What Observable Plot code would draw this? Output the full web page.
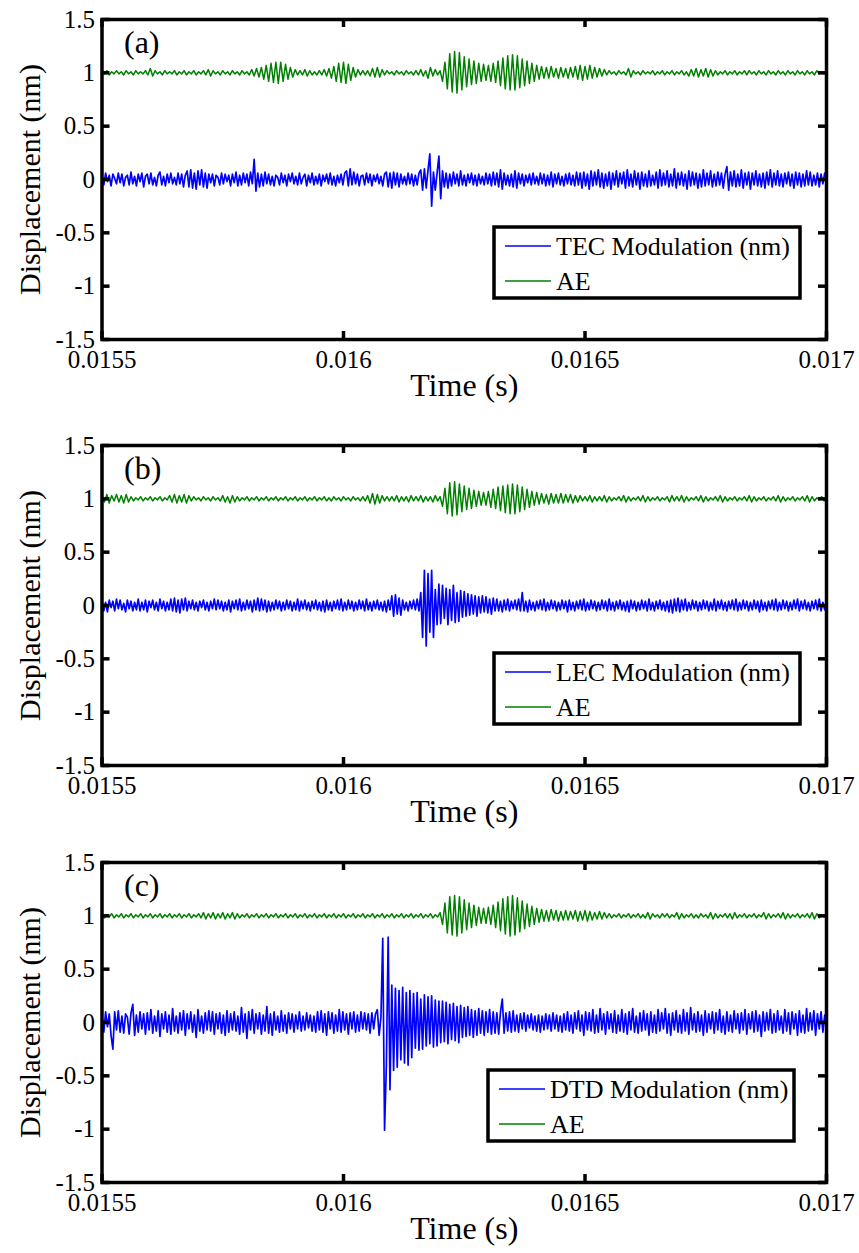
<!DOCTYPE html>
<html><head><meta charset="utf-8">
<script src="https://cdn.jsdelivr.net/npm/d3@7"></script>
<script src="https://cdn.jsdelivr.net/npm/@observablehq/plot@0.6"></script>
<style>
body{margin:0;background:#fff;}
#chart svg{display:block;}
</style></head><body><div id="chart"></div>
<script>
// Sampled signals from 0.0155 s to 0.017 s.
// Modulation (blue) traces: 401 samples, one every 3.75 microseconds.
// AE (green) traces: 301 samples, one every 5 microseconds.
const startTime = 0.0155;
const blueStep = 0.00000375;
const greenStep = 0.000005;
const xTicks = [0.0155, 0.016, 0.0165, 0.017];
const yTicks = [-1.5, -1, -0.5, 0, 0.5, 1, 1.5];
const seriesNames = ["TEC Modulation (nm)", "LEC Modulation (nm)", "DTD Modulation (nm)"];
const aeName = "AE";
const panelLetters = ["(a)", "(b)", "(c)"];

const blueA = [
.03,-.05,.06,-.02,.04,-.06,.05,.01,-.04,.06,
-.03,.05,-.06,.02,.04,-.05,.07,-.04,.03,-.06,
.05,-.02,.06,-.07,.03,.05,-.04,.06,-.05,.02,
-.06,.04,.07,-.05,.03,-.06,.05,-.03,.06,-.04,
.02,-.05,.06,-.04,.05,-.07,.04,.08,-.07,.09,
-.08,.06,-.09,.08,-.05,.09,-.07,.06,-.08,.05,
-.03,.05,-.06,.04,.02,-.05,.06,-.04,.05,-.02,
.04,-.06,.05,-.03,.07,-.06,.04,-.05,.06,-.03,
.05,-.06,.07,-.04,.19,-.11,.06,-.07,.05,-.06,
.07,-.04,.05,-.05,.03,-.06,.04,.02,-.05,.06,
-.03,.04,-.06,.05,-.02,.06,-.04,.03,-.05,.06,
-.04,.02,.05,-.06,.04,-.03,.06,-.05,.03,-.04,
.05,-.06,.04,-.02,.05,-.04,.06,-.05,.03,-.06,
.04,-.03,.05,-.05,.06,.08,-.06,.1,-.05,.07,
-.04,.05,-.06,.03,.04,-.05,.06,-.03,.05,-.06,
.04,-.02,.05,-.04,.03,-.06,.05,.07,-.07,.06,
-.08,.07,-.05,.06,-.07,.05,-.04,.03,-.05,.06,
-.04,.05,-.06,.04,-.05,.06,.09,-.1,.1,-.08,
.09,.24,-.25,.07,-.1,.06,.22,-.18,.08,-.07,
.06,-.08,.05,-.06,.07,-.04,.05,-.06,.08,-.05,
.04,-.06,.05,-.03,.06,-.05,.04,-.06,.05,-.04,
.03,-.05,.06,-.04,.05,-.06,.07,-.05,.06,-.07,
.09,-.09,.06,-.05,.04,-.06,.05,-.07,.08,-.08,
.06,-.04,.05,-.06,.04,-.03,.05,-.05,.06,-.04,
.03,-.05,.06,-.04,.05,-.06,.04,-.05,.07,-.07,
.05,-.04,.06,-.05,.03,-.06,.05,-.04,.06,-.05,
.04,-.06,.07,-.05,.06,-.08,.07,-.06,.05,-.09,
.08,-.06,.07,-.05,.09,-.07,.06,-.08,.05,-.06,
.07,-.09,.06,-.05,.08,-.07,.06,-.04,.07,-.08,
.09,-.06,.05,-.07,.08,-.05,.06,-.09,.07,-.06,
.05,-.07,.08,-.06,.04,-.05,.07,-.08,.09,-.06,
.06,-.05,.08,-.07,.05,-.06,.1,-.08,.06,-.05,
.07,-.06,.05,-.09,.08,-.06,.07,-.05,.06,-.08,
.05,-.07,.09,-.06,.06,-.05,.08,-.07,.05,-.06,
.07,-.05,.06,-.08,.05,.12,-.1,.07,-.06,.08,
-.07,.05,-.06,.09,-.08,.06,-.05,.07,-.09,.06,
-.05,.08,-.06,.05,-.07,.06,-.08,.07,-.05,.09,
-.07,.06,-.05,.08,-.06,.05,-.07,.06,-.04,.07,
-.06,.05,-.08,.07,-.05,.06,-.07,.05,-.06,.08,
-.05,.07,-.06,.04,-.05,.06,-.07,.05,-.04,.06,
.02];

const blueB = [
.04,-.05,.03,-.06,.05,-.02,.04,-.05,.06,-.03,
.05,-.04,.02,-.06,.05,-.03,.04,-.05,.03,-.04,
.06,-.05,.03,-.04,.05,-.06,.04,-.02,.05,-.04,
.03,-.05,.06,-.03,.04,-.05,.03,-.04,.06,-.05,
.07,-.06,.05,-.07,.06,-.04,.07,-.05,.04,-.03,
.05,-.04,.03,-.05,.04,-.02,.05,-.04,.03,-.05,
.04,-.03,.06,-.04,.05,-.03,.04,-.05,.03,-.04,
.05,-.06,.04,-.03,.05,-.04,.06,-.05,.03,-.04,
.05,-.03,.04,-.06,.05,-.04,.07,-.05,.06,-.04,
.05,-.06,.04,-.05,.03,-.04,.05,-.03,.04,-.05,
.03,-.04,.05,-.03,.04,-.05,.03,-.04,.06,-.05,
.04,-.03,.05,-.04,.03,-.05,.04,-.03,.05,-.04,
.03,-.05,.04,-.06,.05,-.04,.03,-.05,.04,-.03,
.05,-.04,.06,-.05,.03,-.04,.05,-.03,.04,-.05,
.03,-.04,.05,-.03,.04,-.05,.06,-.04,.03,-.05,
.04,-.03,.05,-.04,.03,-.05,.04,-.06,.05,-.04,
.09,-.1,.1,-.08,.07,-.09,.05,-.04,.03,-.05,
.04,-.03,.05,-.04,.06,-.05,.12,-.3,.33,-.38,
.3,-.25,.33,-.3,.15,-.18,.2,-.17,.19,-.12,
.16,-.18,.15,-.14,.19,-.16,.12,-.15,.14,-.11,
.13,-.1,.11,-.09,.1,-.08,.09,-.1,.08,-.07,
.09,-.06,.08,-.07,.06,-.08,.07,-.05,.06,-.05,
.04,-.06,.05,-.04,.06,-.05,.04,-.03,.05,-.04,
.06,-.05,.12,-.05,.04,-.06,.05,-.04,.03,-.05,
.04,-.03,.05,-.04,.06,-.05,.03,-.04,.05,-.03,
.04,-.05,.03,-.04,.05,-.03,.04,-.06,.05,-.04,
.03,-.05,.04,-.03,.05,-.04,.06,-.05,.03,-.04,
.05,-.03,.04,-.05,.03,-.04,.05,-.03,.04,-.05,
.06,-.04,.03,-.05,.04,-.03,.05,-.04,.03,-.05,
.04,-.06,.05,-.03,.04,-.05,.03,-.04,.05,-.03,
.04,-.05,.06,-.04,.03,-.05,.04,-.03,.05,-.04,
.03,-.05,.04,-.06,.05,-.07,.06,-.05,.07,-.06,
.05,-.04,.06,-.05,.03,-.04,.05,-.03,.04,-.05,
.03,-.04,.05,-.03,.04,-.05,.03,-.04,.06,-.05,
.04,-.03,.05,-.04,.03,-.05,.04,-.03,.05,-.04,
.06,-.05,.03,-.04,.05,-.03,.04,-.05,.03,-.04,
.05,-.03,.04,-.06,.05,-.04,.03,-.05,.04,-.03,
.05,-.04,.06,-.05,.03,-.04,.05,-.03,.04,-.05,
.03,-.04,.05,-.03,.06,-.05,.04,-.03,.05,-.04,
.03,-.05,.04,-.03,.05,-.04,.06,-.05,.03,-.04,
.02];

const blueC = [
.06,-.09,.1,-.04,.08,-.12,-.25,.1,-.07,.11,
-.09,.06,-.1,.08,.05,-.11,.09,.17,-.12,.07,
-.09,.1,-.06,.08,-.11,.09,-.07,.12,-.1,.06,
-.08,.11,-.13,.08,-.06,.1,-.09,.07,-.11,.13,
-.08,.06,-.1,.09,-.07,.11,-.12,.08,-.06,.1,
-.09,.07,-.14,.12,-.08,.06,-.1,.09,-.07,.11,
-.08,.1,-.11,.08,-.06,.09,-.1,.07,-.12,.11,
-.09,.08,-.07,.1,-.08,.06,-.11,.14,-.09,.08,
-.15,.1,-.07,.12,-.1,.08,-.06,.09,-.11,.07,
-.08,.15,-.1,.08,-.12,.1,-.07,.06,-.09,.11,
-.08,.07,-.1,.09,-.06,.08,-.09,.07,-.06,.1,
-.08,.06,-.07,.09,-.05,.07,-.08,.06,-.09,.1,
-.07,.11,-.09,.08,-.12,.1,-.06,.09,-.1,.07,
-.08,.12,-.09,.1,-.07,.08,-.11,.09,-.06,.1,
-.09,.07,-.08,.1,-.06,.09,-.07,.08,-.1,.09,
-.06,.08,.12,-.12,.05,.79,-1.01,-.4,.8,-.63,
.35,-.45,.32,-.42,.3,-.35,.33,-.38,.28,-.4,
.3,-.33,.27,-.24,.28,-.26,.22,-.25,.26,-.22,
.24,-.2,.25,-.23,.21,-.22,.2,-.19,.2,-.18,
.19,-.2,.17,-.16,.18,-.17,.15,-.19,.16,-.14,
.14,-.13,.15,-.12,.12,-.14,.11,-.12,.13,-.1,
.11,-.12,.1,-.09,.12,-.11,.1,-.1,.09,-.11,
.1,.22,-.1,.09,-.08,.1,-.09,.11,-.08,.07,
-.09,.08,-.06,.09,-.08,.07,-.05,.08,-.07,.06,
-.08,.07,-.09,.06,-.07,.08,-.06,.07,-.08,.09,
-.06,.07,-.08,.06,-.09,.08,-.07,.1,-.08,.07,
-.1,.09,-.06,.11,-.08,.07,-.12,.1,-.07,.09,
-.08,.12,-.1,.07,-.09,.13,-.07,.08,-.11,.1,
-.06,.08,-.09,.11,-.1,.07,-.08,.12,-.09,.08,
-.11,.1,-.07,.13,-.09,.06,-.1,.09,-.08,.11,
-.07,.08,-.12,.1,-.09,.07,-.1,.12,-.08,.09,
-.06,.13,-.1,.08,-.12,.09,-.07,.11,-.09,.07,
-.1,.12,-.08,.09,-.11,.14,-.07,.08,-.09,.1,
-.08,.07,-.12,.11,-.09,.08,-.06,.1,-.1,.09,
-.07,.12,-.09,.06,-.11,.1,-.08,.07,-.09,.11,
-.06,.08,-.1,.09,-.07,.12,-.11,.08,-.06,.1,
-.09,.11,-.08,.07,-.13,.1,-.08,.09,-.07,.12,
-.1,.08,-.09,.11,-.07,.06,-.1,.12,-.08,.09,
-.11,.1,-.06,.08,-.12,.11,-.09,.07,-.1,.13,
-.08,.09,-.07,.11,-.12,.08,-.06,.1,-.09,.07,
.05];

const greenA = [
1.01,.99,1.02,.98,1.01,.99,1.02,.99,1.01,.98,
1.02,.99,1.01,.98,1.02,.99,1.01,.99,1.02,.98,
1.04,.97,1.02,.99,1.01,.98,1.02,.99,1.01,.99,
1.02,.98,1.01,.99,1.02,.98,1.01,.99,1.02,.98,
1.01,.99,1.02,.98,1.03,.97,1.02,.99,1.01,.98,
1.02,.99,1.01,.98,1.02,.99,1.01,.98,1.02,.99,
1.01,.98,1.03,.97,1.04,.96,1.05,.94,1.07,.92,
1.09,.91,1.1,.9,1.1,.92,1.08,.94,1.05,.96,
1.03,.98,1.02,.98,1.03,.97,1.02,.98,1.01,.98,
1.02,.98,1.03,.97,1.04,.95,1.06,.92,1.09,.91,
1.1,.9,1.08,.93,1.05,.96,1.03,.98,1.02,.98,
1.02,.97,1.04,.96,1.05,.96,1.03,.98,1.02,.99,
1.01,.98,1.02,.99,1.01,.98,1.02,.99,1.01,.98,
1.02,.98,1.03,.97,1.02,.95,1.05,.97,1.03,.98,
1.02,.92,1.1,.85,1.18,.82,1.2,.81,1.19,.84,
1.15,.87,1.13,.89,1.11,.9,1.09,.92,1.08,.93,
1.07,.92,1.09,.91,1.11,.88,1.14,.85,1.16,.84,
1.17,.84,1.16,.86,1.13,.88,1.11,.9,1.09,.92,
1.07,.94,1.06,.95,1.05,.95,1.06,.96,1.04,.95,
1.05,.96,1.04,.95,1.05,.96,1.06,.94,1.07,.93,
1.06,.94,1.07,.95,1.05,.96,1.04,.97,1.03,.98,
1.02,.99,1.01,.98,1.02,.99,1.01,.98,1.04,.96,
1.02,.99,1.01,.98,1.02,.99,1.01,.99,1.02,.98,
1.01,.99,1.02,.98,1.01,.99,1.02,.98,1.01,.99,
1.02,.98,1.01,.97,1.03,.97,1.04,.96,1.03,.97,
1.04,.96,1.03,.97,1.02,.98,1.01,.99,1.02,.98,
1.01,.99,1.02,.98,1.01,.99,1.02,.98,1.02,.99,
1.01,.98,1.02,.99,1.01,.98,1.02,.99,1.01,.98,
1.02,.99,1.01,.98,1.02,.99,1.01,.98,1.02,.99,
1.01,.98,1.02,.99,1.01,.98,1.02,.99,1.01,.99,
1.0];

const greenB = [
1.03,.97,1.04,.96,1.03,.98,1.04,.97,1.03,.96,
1.04,.97,1.02,.98,1.01,.99,1.02,.98,1.01,.99,
1.02,.98,1.01,.99,1.02,.98,1.01,.99,1.03,.97,
1.04,.96,1.03,.97,1.04,.96,1.03,.98,1.02,.99,
1.01,.98,1.02,.99,1.01,.98,1.02,.99,1.01,.98,
1.03,.97,1.02,.96,1.03,.97,1.02,.98,1.01,.99,
1.02,.98,1.01,.99,1.02,.98,1.01,.99,1.02,.98,
1.01,.99,1.02,.98,1.01,.99,1.02,.98,1.01,.99,
1.02,.98,1.01,.99,1.02,.98,1.01,.99,1.02,.98,
1.01,.99,1.02,.98,1.01,.98,1.02,.99,1.01,.98,
1.02,.99,1.01,.98,1.02,.99,1.01,.98,1.02,.98,
1.03,.96,1.05,.95,1.04,.96,1.03,.98,1.02,.98,
1.02,.98,1.03,.97,1.02,.98,1.02,.97,1.03,.98,
1.02,.98,1.03,.97,1.02,.98,1.02,.97,1.03,.98,
1.02,.93,1.1,.86,1.15,.84,1.16,.85,1.14,.88,
1.12,.9,1.1,.91,1.08,.93,1.07,.94,1.06,.94,
1.07,.92,1.09,.91,1.11,.89,1.12,.87,1.13,.86,
1.14,.86,1.13,.88,1.11,.9,1.09,.92,1.07,.94,
1.06,.95,1.05,.96,1.04,.95,1.05,.96,1.04,.96,
1.05,.96,1.04,.97,1.04,.96,1.03,.97,1.03,.98,
1.02,.98,1.03,.97,1.02,.98,1.02,.98,1.03,.97,
1.02,.98,1.01,.99,1.02,.98,1.03,.97,1.02,.98,
1.01,.99,1.02,.98,1.03,.97,1.02,.98,1.01,.99,
1.02,.98,1.01,.99,1.02,.97,1.03,.98,1.02,.98,
1.03,.97,1.02,.98,1.01,.99,1.02,.98,1.03,.97,
1.02,.98,1.01,.99,1.02,.98,1.03,.97,1.02,.98,
1.01,.99,1.02,.98,1.01,.99,1.02,.98,1.03,.97,
1.02,.98,1.01,.99,1.02,.98,1.01,.99,1.02,.98,
1.03,.97,1.02,.98,1.01,.99,1.02,.98,1.01,.99,
1.02,.98,1.03,.97,1.02,.98,1.01,.99,1.02,.98,
1.0];

const greenC = [
1.02,.98,1.01,.99,1.02,.98,1.01,.99,1.02,.98,
1.01,.99,1.02,.98,1.01,.99,1.02,.98,1.01,.99,
1.02,.98,1.01,.99,1.02,.98,1.01,.99,1.02,.98,
1.01,.99,1.02,.98,1.01,.99,1.02,.98,1.01,.99,
1.02,.98,1.03,.97,1.02,.98,1.03,.97,1.02,.98,
1.03,.97,1.02,.98,1.03,.97,1.02,.98,1.01,.99,
1.02,.98,1.01,.99,1.02,.98,1.01,.99,1.02,.98,
1.01,.99,1.02,.98,1.01,.99,1.02,.98,1.01,.99,
1.02,.98,1.01,.99,1.02,.98,1.01,.99,1.02,.98,
1.01,.99,1.02,.98,1.01,.99,1.02,.98,1.01,.99,
1.02,.98,1.01,.99,1.02,.98,1.01,.99,1.02,.98,
1.01,.99,1.02,.98,1.01,.99,1.02,.98,1.01,.99,
1.02,.98,1.01,.99,1.02,.98,1.01,.99,1.02,.98,
1.01,.99,1.02,.98,1.01,.99,1.02,.98,1.01,.99,
1.03,.92,1.12,.84,1.18,.82,1.19,.81,1.18,.84,
1.15,.87,1.12,.89,1.1,.91,1.08,.93,1.07,.93,
1.08,.92,1.1,.89,1.13,.86,1.16,.83,1.18,.81,
1.19,.82,1.17,.85,1.14,.88,1.11,.9,1.09,.92,
1.07,.94,1.06,.95,1.05,.95,1.06,.96,1.05,.95,
1.04,.96,1.05,.96,1.04,.97,1.05,.95,1.04,.96,
1.05,.95,1.04,.96,1.03,.97,1.04,.97,1.03,.98,
1.02,.98,1.01,.99,1.02,.98,1.01,.99,1.02,.98,
1.01,.99,1.02,.98,1.01,.98,1.03,.97,1.02,.99,
1.01,.98,1.02,.99,1.02,.98,1.01,.99,1.03,.97,
1.02,.98,1.01,.99,1.02,.98,1.01,.98,1.02,.99,
1.01,.98,1.03,.97,1.02,.98,1.01,.99,1.02,.98,
1.02,.97,1.03,.98,1.01,.99,1.02,.98,1.01,.99,
1.02,.98,1.01,.99,1.03,.97,1.02,.98,1.01,.99,
1.02,.98,1.03,.97,1.02,.98,1.01,.99,1.02,.98,
1.01,.99,1.02,.98,1.03,.97,1.02,.98,1.01,.99,
1.0];

const blueSeries = [blueA, blueB, blueC];
const greenSeries = [greenA, greenB, greenC];
const svgHeights = [426, 417, 410];
const legendShift = [0, 0, -6];

const blueColor = "#0000ff", greenColor = "#008000";
const W = 859, mL = 101.5, mR = 33, mT = 19, plotH = 320;
const plotW = W - mL - mR;
const font = "'Liberation Serif','Times New Roman',serif";
const fmt = d => String(d);

const root = document.getElementById("chart");
for (let k = 0; k < 3; k++) {
  const blueRows = blueSeries[k].map((v, i) => ({t: startTime + i * blueStep, v}));
  const greenRows = greenSeries[k].map((v, i) => ({t: startTime + i * greenStep, v}));
  const H = svgHeights[k];
  const svg = Plot.plot({
    width: W, height: H,
    marginLeft: mL, marginRight: mR, marginTop: mT, marginBottom: H - mT - plotH,
    style: {fontFamily: font, fontSize: "25px", color: "black", background: "white", overflow: "visible"},
    x: {domain: [xTicks[0], xTicks[xTicks.length - 1]], label: null},
    y: {domain: [yTicks[0], yTicks[yTicks.length - 1]], label: null},
    marks: [
      Plot.axisX({ticks: xTicks, tickSize: 0, tickPadding: 11, tickFormat: fmt, label: null, fontSize: 25, fontFamily: font}),
      Plot.axisY({ticks: yTicks, tickSize: 0, tickPadding: 7, tickFormat: fmt, label: null, fontSize: 25, fontFamily: font}),
      Plot.line(greenRows, {x: "t", y: "v", stroke: greenColor, strokeWidth: 1.5}),
      Plot.line(blueRows, {x: "t", y: "v", stroke: blueColor, strokeWidth: 1.7}),
      Plot.tickY(yTicks, {y: d => d, stroke: "black", strokeWidth: 3.5, insetRight: plotW - 8}),
      Plot.tickY(yTicks, {y: d => d, stroke: "black", strokeWidth: 3.5, insetLeft: plotW - 8}),
      Plot.tickX(xTicks, {x: d => d, stroke: "black", strokeWidth: 3.5, insetTop: plotH - 8}),
      Plot.tickX(xTicks, {x: d => d, stroke: "black", strokeWidth: 3.5, insetBottom: plotH - 8}),
      Plot.frame({stroke: "black", strokeWidth: 3.5}),
      Plot.text([panelLetters[k]], {frameAnchor: "top-left", dx: 22, dy: 11, fontSize: 32, fontFamily: font, textAnchor: "start", lineAnchor: "top"}),
      Plot.text(["Displacement (nm)"], {frameAnchor: "left", dx: -72, rotate: -90, textAnchor: "middle", lineAnchor: "middle", fontSize: 30, fontFamily: font}),
      Plot.text(["Time (s)"], {frameAnchor: "bottom", dy: 56, textAnchor: "middle", fontSize: 32, fontFamily: font})
    ]
  });
  // legend inside the plot area
  const g = d3.select(svg).append("g").attr("font-family", font).attr("text-anchor", "start");
  const bx = 494 + legendShift[k], by = 227, bw = 306, bh = 71;
  g.append("rect").attr("x", bx).attr("y", by).attr("width", bw).attr("height", bh)
    .attr("fill", "white").attr("stroke", "black").attr("stroke-width", 3.5);
  const items = [[seriesNames[k], blueColor], [aeName, greenColor]];
  items.forEach(([label, color], j) => {
    const cy = by + 19 + j * 35;
    g.append("line").attr("x1", bx + 11).attr("x2", bx + 57).attr("y1", cy).attr("y2", cy)
      .attr("stroke", color).attr("stroke-width", 1.5);
    g.append("text").attr("x", bx + 62).attr("y", cy + 9).attr("font-size", 26)
      .attr("text-anchor", "start").attr("fill", "black").text(label);
  });
  root.appendChild(svg);
}
</script>
</body></html>
